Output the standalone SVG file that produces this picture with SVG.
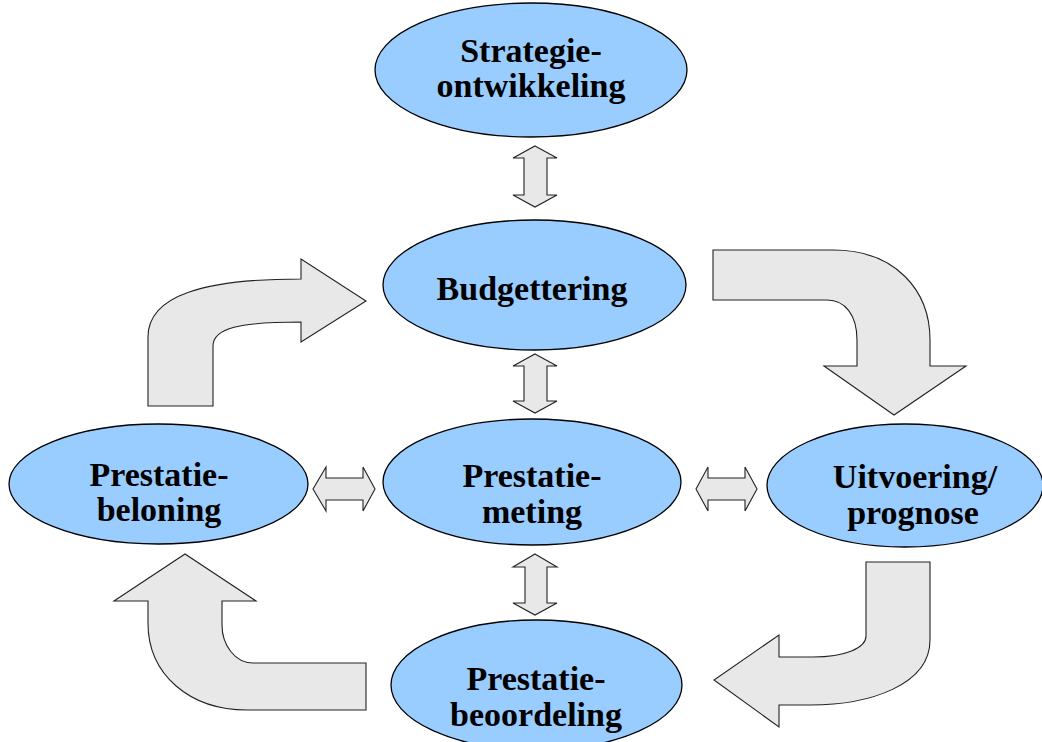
<svg xmlns="http://www.w3.org/2000/svg" width="1042" height="742" viewBox="0 0 1042 742">
<style>
.node ellipse{fill:#99CCFF;stroke:#000;stroke-width:1.3}
.node text{font-family:"Liberation Serif","Times New Roman",serif;font-weight:bold;font-size:34px;fill:#000;text-anchor:middle}
.conn path{fill:#E8E8E8;stroke:#222;stroke-width:1.1;stroke-linejoin:miter}
</style>
<rect width="1042" height="742" fill="#fff"/>
<g id="connectors" class="conn">
<path d="M535,146 L557,158 L547,158 L547,195 L557,195 L535,207 L513,195 L524,195 L524,158 L513,158 Z"/>
<path d="M535,354 L557,366 L547,366 L547,401 L557,401 L535,413 L513,401 L524,401 L524,366 L513,366 Z"/>
<path d="M535,554 L557,567 L547,567 L547,603 L557,603 L535,615 L513,603 L525,603 L525,567 L513,567 Z"/>
<path d="M313,489 L326,467 L326,478 L363,478 L363,467 L375,489 L363,511 L363,500 L326,500 L326,511 Z"/>
<path d="M696,489 L708,467 L708,478 L745,478 L745,467 L757,489 L745,511 L745,500 L708,500 L708,511 Z"/>
<path d="M148,406 L148,337 C148,295 205,279 301,279 L301,259 L366,301 L301,342 L301,322 C240,322 213,328 213,346 L213,406 Z"/>
<path d="M713,250 L833,250 C895,250 930,290 930,340 L930,366 L966,366 L894,415 L824,366 L857,366 L857,340 C857,315 845,300 827,300 L713,300 Z"/>
<path d="M866,562 L930,562 L930,640 C930,685 870,705 810,705 L779,705 L779,727 L714,680 L779,635 L779,657 L813,657 C845,657 866,648 866,636 Z"/>
<path d="M366,663 L366,710 L247,710 C190,710 148,675 148,623 L148,601 L114,601 L185,554 L256,601 L222,601 L222,625 C222,645 235,663 253,663 Z"/>
</g>
<g id="strategie" class="node">
<ellipse cx="531" cy="70" rx="156" ry="67"/>
<text x="531" y="62">Strategie-</text>
<text x="531" y="97">ontwikkeling</text>
</g>
<g id="budgettering" class="node">
<ellipse cx="534.5" cy="285" rx="151.5" ry="65"/>
<text x="532" y="300">Budgettering</text>
</g>
<g id="meting" class="node">
<ellipse cx="532" cy="482" rx="149" ry="63"/>
<text x="532" y="487">Prestatie-</text>
<text x="532" y="523">meting</text>
</g>
<g id="beloning" class="node">
<ellipse cx="158.5" cy="484" rx="149.5" ry="60"/>
<text x="159" y="486">Prestatie-</text>
<text x="159" y="521">beloning</text>
</g>
<g id="uitvoering" class="node">
<ellipse cx="905" cy="485.5" rx="138" ry="61.5"/>
<text x="915" y="488">Uitvoering/</text>
<text x="913" y="524">prognose</text>
</g>
<g id="beoordeling" class="node">
<ellipse cx="536.5" cy="685" rx="145.5" ry="65"/>
<text x="536" y="690">Prestatie-</text>
<text x="536" y="726">beoordeling</text>
</g>
</svg>
